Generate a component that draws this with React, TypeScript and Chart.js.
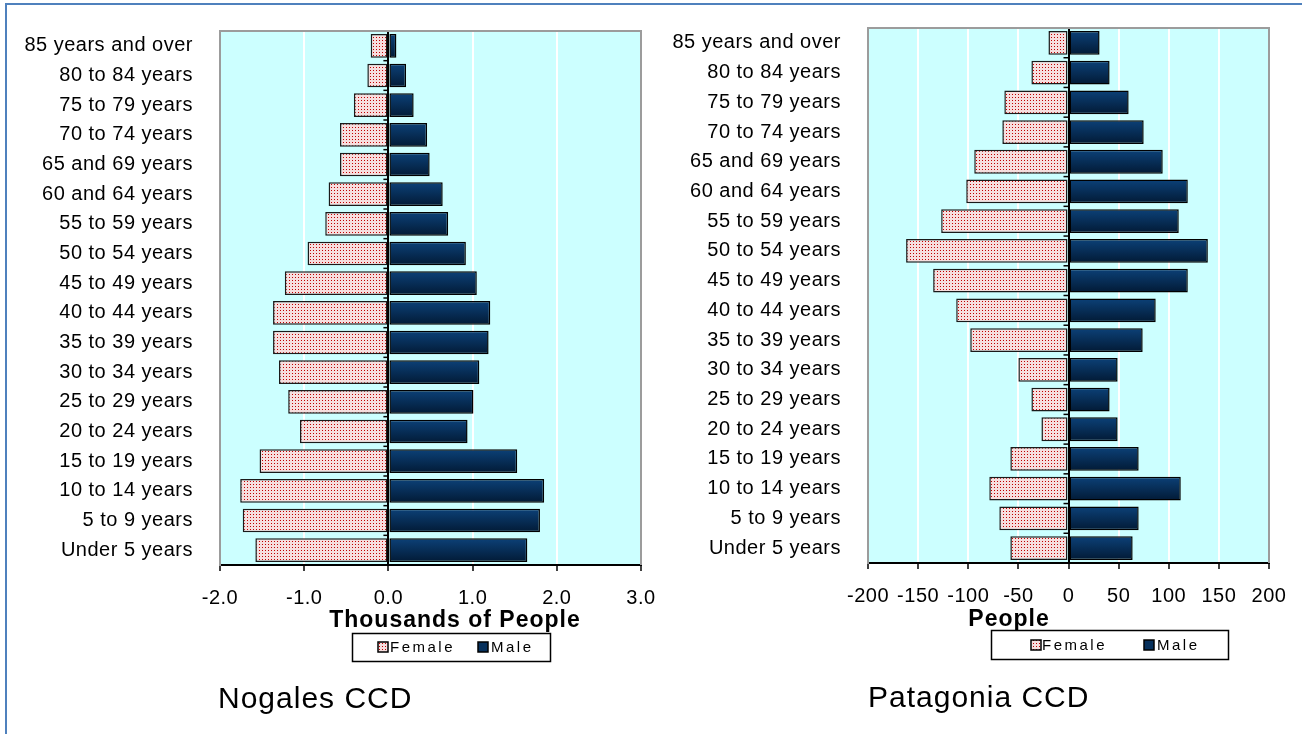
import React, { useEffect, useRef } from "react";
import { Chart, registerables } from "chart.js";

Chart.register(...registerables);

const ageGroups = [
  "85 years and over",
  "80 to 84 years",
  "75 to 79 years",
  "70 to 74 years",
  "65 and 69 years",
  "60 and 64 years",
  "55 to 59 years",
  "50 to 54 years",
  "45 to 49 years",
  "40 to 44 years",
  "35 to 39 years",
  "30 to 34 years",
  "25 to 29 years",
  "20 to 24 years",
  "15 to 19 years",
  "10 to 14 years",
  "5 to 9 years",
  "Under 5 years",
];

const seriesNames = ["Female", "Male"];

// Nogales CCD, thousands of people
const nogalesFemale = [
  -0.21, -0.25, -0.41, -0.575, -0.575, -0.71, -0.75, -0.96, -1.23, -1.37, -1.37, -1.3, -1.19, -1.05, -1.53, -1.76, -1.73, -1.58,
];
const nogalesMale = [
  0.095, 0.21, 0.3, 0.46, 0.49, 0.645, 0.71, 0.92, 1.05, 1.21, 1.19, 1.08, 1.01, 0.94, 1.53, 1.85, 1.8, 1.65,
];
const nogalesAxis = { min: -2, max: 3, step: 1, decimals: 1 };

// Patagonia CCD, people
const patagoniaFemale = [
  -20, -37, -64, -66, -94, -102, -127, -162, -135, -112, -98, -50, -37, -27, -58, -79, -69, -58,
];
const patagoniaMale = [31, 41, 60, 75, 94, 119, 110, 139, 119, 87, 74, 49, 41, 49, 70, 112, 70, 64];
const patagoniaAxis = { min: -200, max: 200, step: 50, decimals: 0 };

const FONT = '"Liberation Sans", Arial, sans-serif';

function makeDots(): CanvasPattern | string {
  const c = document.createElement("canvas");
  c.width = 3;
  c.height = 3;
  const g = c.getContext("2d");
  if (!g) return "#F2D6D6";
  g.fillStyle = "#F6DEDE";
  g.fillRect(0, 0, 3, 3);
  g.fillStyle = "#C00000";
  g.fillRect(1, 1, 1, 1);
  return g.createPattern(c, "repeat") || "#F2D6D6";
}

type Layout = {
  canvasLeft: number;
  canvasWidth: number;
  yAxisWidth: number;
  padRight: number;
  padTop: number;
  axisHeight: number;
  axisTitle: string;
  axisTitleX: number;
  axisTitleY: number;
  legend: { x: number; y: number; w: number; h: number; fm: number; mm: number; ft: number; mt: number; cy: number };
  title: string;
  titleX: number;
  titleY: number;
};

function Pyramid(props: {
  female: number[];
  male: number[];
  axis: { min: number; max: number; step: number; decimals: number };
  layout: Layout;
}) {
  const ref = useRef<HTMLCanvasElement | null>(null);
  const { female, male, axis, layout } = props;

  useEffect(() => {
    const canvas = ref.current;
    if (!canvas) return;
    const dots = makeDots();
    const L = layout;

    const spacing = {
      id: "spacing",
      beforeUpdate(c: any) {
        c.ctx.letterSpacing = "0.5px";
      },
      beforeDraw(c: any) {
        c.ctx.letterSpacing = "0.5px";
      },
    };

    const extras = {
      id: "extras",
      beforeDraw(chart: any) {
        const { ctx, chartArea: a } = chart;
        ctx.save();
        ctx.fillStyle = "#CCFFFF";
        ctx.fillRect(a.left, a.top, a.right - a.left, a.bottom - a.top);
        ctx.restore();
      },
      beforeDatasetsDraw(chart: any) {
        const { ctx } = chart;
        const xs = chart.scales.x;
        const ys = chart.scales.y;
        const x0 = xs.getPixelForValue(0);
        ctx.save();
        ctx.strokeStyle = "#000";
        ctx.lineWidth = 1.5;
        for (let i = 0; i <= ageGroups.length; i++) {
          const y = ys.getPixelForValue(i - 0.5);
          ctx.beginPath();
          ctx.moveTo(x0 - 5, y);
          ctx.lineTo(x0, y);
          ctx.stroke();
        }
        ctx.restore();
      },
      afterDraw(chart: any) {
        const { ctx, chartArea: a } = chart;
        ctx.save();
        // plot frame (top, right, left)
        ctx.strokeStyle = "#9C9C9C";
        ctx.lineWidth = 2;
        ctx.beginPath();
        ctx.moveTo(a.left, a.bottom);
        ctx.lineTo(a.left, a.top);
        ctx.lineTo(a.right, a.top);
        ctx.lineTo(a.right, a.bottom);
        ctx.stroke();

        // axis title
        ctx.fillStyle = "#000";
        ctx.letterSpacing = "1px";
        ctx.font = `bold 23px ${FONT}`;
        ctx.textAlign = "center";
        ctx.textBaseline = "alphabetic";
        ctx.fillText(L.axisTitle, L.axisTitleX, L.axisTitleY);

        // legend
        const lg = L.legend;
        ctx.fillStyle = "#FFFFFF";
        ctx.fillRect(lg.x, lg.y, lg.w, lg.h);
        ctx.strokeStyle = "#000";
        ctx.lineWidth = 1.5;
        ctx.strokeRect(lg.x + 0.5, lg.y + 0.5, lg.w, lg.h);
        const ms = 10;
        ctx.fillStyle = dots as any;
        ctx.fillRect(lg.fm, lg.cy - ms / 2, ms, ms);
        ctx.lineWidth = 1.5;
        ctx.strokeRect(lg.fm, lg.cy - ms / 2, ms, ms);
        ctx.fillStyle = "#06305C";
        ctx.fillRect(lg.mm, lg.cy - ms / 2, ms, ms);
        ctx.strokeRect(lg.mm, lg.cy - ms / 2, ms, ms);
        ctx.fillStyle = "#000";
        ctx.font = `15px ${FONT}`;
        ctx.letterSpacing = "2.5px";
        ctx.textAlign = "left";
        ctx.textBaseline = "middle";
        ctx.fillText(seriesNames[0], lg.ft, lg.cy + 1);
        ctx.fillText(seriesNames[1], lg.mt, lg.cy + 1);

        // chart title
        ctx.font = `30px ${FONT}`;
        ctx.letterSpacing = "1px";
        ctx.textBaseline = "alphabetic";
        ctx.fillText(L.title, L.titleX, L.titleY);
        ctx.restore();
      },
    };

    const maleFill = (c: any) => {
      const chart = c.chart;
      const ys = chart.scales && chart.scales.y;
      if (c.type !== "data" || !chart.chartArea || !ys) return "#06305C";
      const yc = ys.getPixelForValue(c.dataIndex);
      const h = 12;
      const g = chart.ctx.createLinearGradient(0, yc - h, 0, yc + h);
      g.addColorStop(0, "#0C4178");
      g.addColorStop(1, "#021A35");
      return g;
    };

    const chart = new Chart(canvas, {
      type: "bar",
      data: {
        labels: ageGroups,
        datasets: [
          {
            label: seriesNames[0],
            data: female,
            backgroundColor: dots as any,
            borderColor: "#1A1A1A",
            borderWidth: 1.5,
            borderSkipped: false,
            categoryPercentage: 1,
            barPercentage: 0.8,
          },
          {
            label: seriesNames[1],
            data: male,
            backgroundColor: maleFill as any,
            borderColor: "#000",
            borderWidth: 1.5,
            borderSkipped: false,
            categoryPercentage: 1,
            barPercentage: 0.8,
          },
        ],
      },
      options: {
        indexAxis: "y",
        animation: false,
        responsive: false,
        maintainAspectRatio: false,
        devicePixelRatio: 1,
        font: { family: FONT },
        layout: { padding: { left: 0, right: L.padRight, top: L.padTop, bottom: 0 } },
        plugins: {
          legend: { display: false },
          title: { display: false },
          tooltip: { enabled: false },
        },
        scales: {
          x: {
            stacked: true,
            min: axis.min,
            max: axis.max,
            ticks: {
              stepSize: axis.step,
              padding: 15,
              color: "#000",
              maxRotation: 0,
              autoSkip: false,
              font: { family: FONT, size: 20 },
              callback: (v: any) => Number(v).toFixed(axis.decimals),
            },
            grid: {
              color: (c: any) => (c.tick && c.tick.value === 0 ? "#000000" : "#FFFFFF"),
              lineWidth: 2,
              drawTicks: true,
              tickLength: 6,
              tickColor: "#000",
              tickWidth: 1.5,
            },
            border: { display: true, color: "#000", width: 2 },
            afterFit: (s: any) => {
              s.height = L.axisHeight;
              s.paddingLeft = 0;
              s.paddingRight = 0;
            },
          },
          y: {
            stacked: true,
            grid: { display: false, drawTicks: false },
            border: { display: true, color: "#9C9C9C", width: 2 },
            ticks: {
              padding: 27,
              color: "#000",
              autoSkip: false,
              font: { family: FONT, size: 20 },
            },
            afterFit: (s: any) => {
              s.width = L.yAxisWidth;
              s.paddingTop = 0;
              s.paddingBottom = 0;
            },
          },
        },
      } as any,
      plugins: [spacing, extras],
    });
    return () => chart.destroy();
  }, [female, male, axis, layout]);

  return (
    <canvas
      ref={ref}
      width={layout.canvasWidth}
      height={734}
      style={{ position: "absolute", left: layout.canvasLeft, top: 0, width: layout.canvasWidth, height: 734 }}
    />
  );
}

const leftLayout: Layout = {
  canvasLeft: 0,
  canvasWidth: 670,
  yAxisWidth: 220,
  padRight: 29,
  padTop: 31,
  axisHeight: 169,
  axisTitle: "Thousands of People",
  axisTitleX: 455,
  axisTitleY: 627,
  legend: { x: 352, y: 633, w: 198, h: 28, fm: 378, mm: 478, ft: 390, mt: 491, cy: 647 },
  title: "Nogales CCD",
  titleX: 218,
  titleY: 708,
};

const rightLayout: Layout = {
  canvasLeft: 651,
  canvasWidth: 651,
  yAxisWidth: 217,
  padRight: 33,
  padTop: 28,
  axisHeight: 171,
  axisTitle: "People",
  axisTitleX: 358,
  axisTitleY: 626,
  legend: { x: 340, y: 630, w: 237, h: 29, fm: 380, mm: 493, ft: 391, mt: 506, cy: 645 },
  title: "Patagonia CCD",
  titleX: 217,
  titleY: 707,
};

export default function App() {
  return (
    <div
      style={{
        position: "fixed",
        left: 0,
        top: 0,
        width: 1302,
        height: 734,
        overflow: "hidden",
        background: "#FFFFFF",
      }}
    >
      <div
        style={{
          position: "absolute",
          left: 5,
          top: 3,
          width: 1400,
          height: 1000,
          borderLeft: "2px solid #4F81BD",
          borderTop: "2px solid #4F81BD",
          boxSizing: "border-box",
        }}
      />
      <Pyramid female={nogalesFemale} male={nogalesMale} axis={nogalesAxis} layout={leftLayout} />
      <Pyramid female={patagoniaFemale} male={patagoniaMale} axis={patagoniaAxis} layout={rightLayout} />
    </div>
  );
}
